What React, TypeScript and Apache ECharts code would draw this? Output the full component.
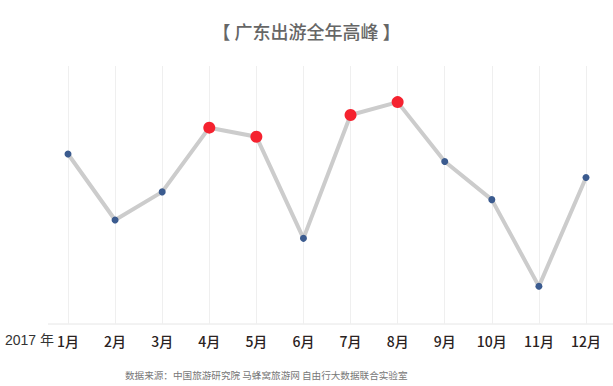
import React, { useEffect, useRef } from "react";
import * as echarts from "echarts";

const months = ["1月", "2月", "3月", "4月", "5月", "6月", "7月", "8月", "9月", "10月", "11月", "12月"];
const values = [65.9, 40.3, 51.2, 76.1, 72.6, 33.2, 81.0, 86.0, 63.0, 48.2, 14.6, 56.8];
const peakMonths = ["4月", "5月", "7月", "8月"];
const titleText = "【 广东出游全年高峰 】";
const yearLabel = "2017 年";
const sourceText = "数据来源：中国旅游研究院 马蜂窝旅游网 自由行大数据联合实验室";

const FONT = "Noto Sans CJK SC";

export default function App() {
  const ref = useRef<HTMLDivElement>(null);
  useEffect(() => {
    if (!ref.current) return;
    const chart = echarts.init(ref.current, undefined, { renderer: "svg" });
    const data = values.map((v, i) => {
      const peak = peakMonths.includes(months[i]);
      return {
        value: v,
        symbolSize: peak ? 12 : 7,
        itemStyle: { color: peak ? "#f5222f" : "#3b5b8f" },
      };
    });
    chart.setOption({
      animation: false,
      textStyle: { fontFamily: FONT },
      title: {
        text: titleText,
        left: "center",
        top: 17,
        textStyle: { fontFamily: FONT, fontSize: 18, fontWeight: 500, color: "#666" },
      },
      grid: { left: 68, right: 27, top: 66, bottom: 62 },
      xAxis: {
        type: "category",
        data: months,
        boundaryGap: false,
        axisLine: { show: false },
        axisTick: { show: false },
        axisLabel: { margin: 10, fontSize: 14, color: "#2a2222", fontFamily: FONT, fontWeight: 500 },
        splitLine: { show: true, lineStyle: { color: "#efefef", width: 1 } },
      },
      yAxis: { type: "value", min: 0, max: 100, show: false },
      series: [
        {
          type: "line",
          data,
          symbol: "circle",
          lineStyle: { color: "#cccccc", width: 4 },
          z: 3,
        },
      ],
      graphic: [
        { type: "line", shape: { x1: 48, y1: 324, x2: 613, y2: 324 }, style: { stroke: "#e6e6e6", lineWidth: 1 }, z: 0 },
        {
          type: "text",
          left: 5,
          top: 333,
          style: { text: yearLabel, font: "normal 14px 'Liberation Sans', 'Noto Sans CJK SC', sans-serif", fill: "#333" },
        },
        {
          type: "text",
          left: 125,
          top: 370,
          style: { text: sourceText, font: "normal 9.6px 'Noto Sans CJK SC', sans-serif", fill: "#777" },
        },
      ],
    });
    return () => chart.dispose();
  }, []);
  return <div ref={ref} style={{ position: "fixed", left: 0, top: 0, width: 613, height: 386, background: "#fff" }} />;
}
